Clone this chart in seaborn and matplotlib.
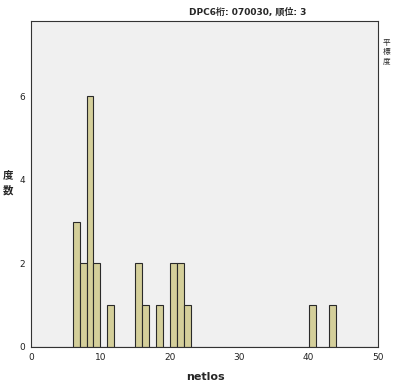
import matplotlib
matplotlib.use('Agg')
import matplotlib.pyplot as plt
import numpy as np
import pandas as pd
import seaborn as sns

# netlos values (left edge of each 1-wide bin) and their counts
netlos = [6, 7, 8, 9, 11, 15, 16, 18, 20, 21, 22, 40, 43]
counts = [3, 2, 6, 2, 1, 2, 1, 1, 2, 2, 1, 1, 1]
xticks = [0, 10, 20, 30, 40, 50]
yticks = [0, 2, 4, 6]

df = pd.DataFrame({'netlos': np.array(netlos) + 0.5, 'count': counts})

sns.set_style('white')
plt.rcParams['font.family'] = ['DejaVu Sans', 'Noto Sans CJK JP']

fig = plt.figure(figsize=(3.94, 3.82), dpi=100)
ax = fig.add_axes([31 / 394, 1 - 347 / 382, 347 / 394, 326 / 382])
ax.set_facecolor('#F0F0F0')

sns.histplot(data=df, x='netlos', weights='count', binwidth=1, binrange=(0, 50),
             color='#D4CF9A', edgecolor='#2a2a2a', linewidth=0.8, alpha=1, ax=ax)

ax.set_xlim(0, 50)
ax.set_ylim(0, 7.8)
ax.set_xticks(xticks)
ax.set_yticks(yticks)
ax.tick_params(labelsize=6.5, length=3, width=0.8, pad=1, colors='#222222')
for s in ax.spines.values():
    s.set_color('#333333')
    s.set_linewidth(0.8)

ax.set_xlabel('')
ax.set_ylabel('')
fig.text(205 / 394, 1 - 377 / 382, 'netlos', ha='center', va='center',
         fontsize=8, fontweight='bold')
fig.text(8 / 394, 1 - 175 / 382, '度', ha='center', va='center',
         fontsize=7.5, fontweight='bold', family=['Noto Sans CJK JP'])
fig.text(8 / 394, 1 - 190 / 382, '数', ha='center', va='center',
         fontsize=7.5, fontweight='bold', family=['Noto Sans CJK JP'])
fig.text(248 / 394, 1 - 12 / 382, 'DPC6桁: 070030, 順位: 3', ha='center', va='center',
         fontsize=6.5, fontweight='bold')
for i, ch in enumerate(['平', '標', '度']):
    fig.text(383 / 394, 1 - (43 + i * 9) / 382, ch, ha='left', va='center',
             fontsize=5.5, family=['Noto Sans CJK JP'])

fig.savefig('out.png', dpi=100)
